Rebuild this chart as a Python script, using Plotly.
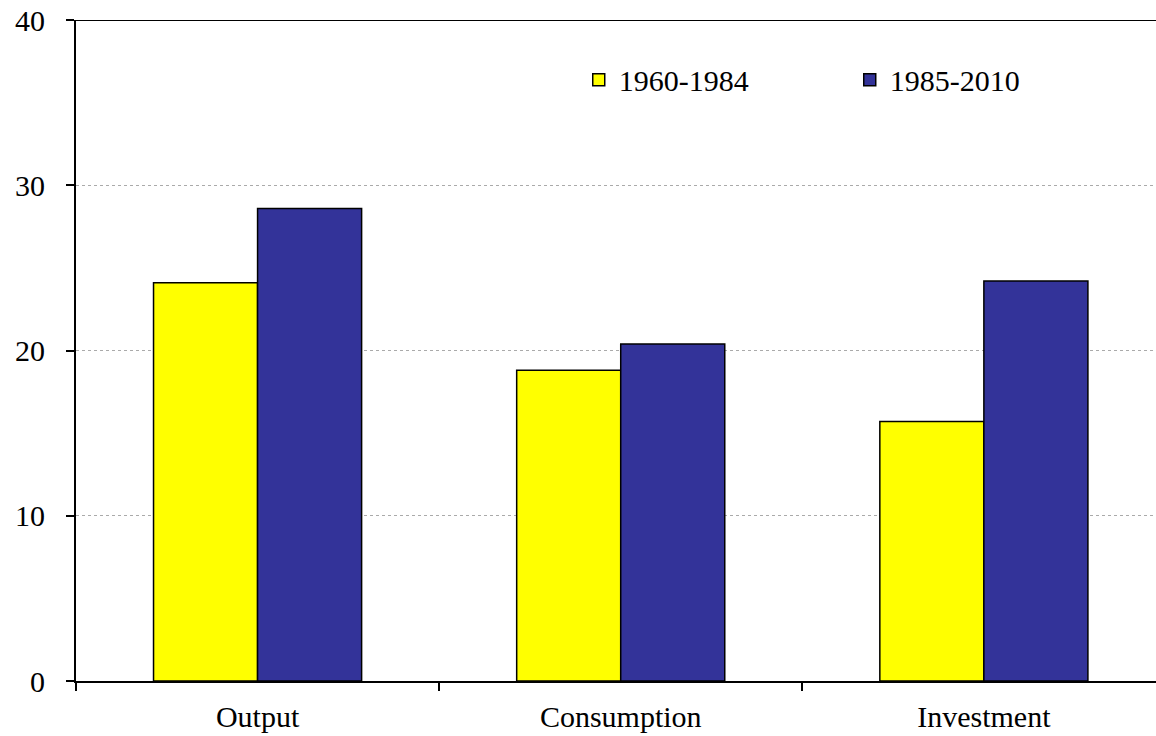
import plotly.graph_objects as go

categories = ["Output", "Consumption", "Investment"]
period1_name = "1960-1984"
period2_name = "1985-2010"
period1_values = [24.1, 18.8, 15.7]
period2_values = [28.6, 20.4, 24.2]
y_ticks = [0, 10, 20, 30, 40]

font_family = "Liberation Serif, Times New Roman, serif"

fig = go.Figure()
fig.add_trace(go.Bar(x=categories, y=period1_values, name=period1_name,
                     marker=dict(color="#FFFF00", line=dict(color="black", width=1.5))))
fig.add_trace(go.Bar(x=categories, y=period2_values, name=period2_name,
                     marker=dict(color="#333399", line=dict(color="black", width=1.5))))

fig.update_layout(
    width=1156, height=736,
    margin=dict(l=76, r=0, t=20, b=55, autoexpand=False),
    paper_bgcolor="white", plot_bgcolor="white",
    barmode="group", bargap=0.427, bargroupgap=0,
    font=dict(family=font_family, size=30, color="black"),
    legend=dict(orientation="h", x=0.4655, y=0.949, xanchor="left", yanchor="top",
                bgcolor="rgba(0,0,0,0)", entrywidth=226, entrywidthmode="pixels",
                font=dict(size=30)),
    showlegend=True,
)
# top border line at the highest tick
fig.add_shape(type="line", xref="paper", yref="y", x0=0, x1=1,
              y0=y_ticks[-1], y1=y_ticks[-1], line=dict(color="black", width=2))
fig.update_xaxes(
    range=[-0.5, 2.474], showline=True, linecolor="black", linewidth=2,
    ticks="outside", tickson="boundaries", ticklen=8, tickwidth=2, tickcolor="black",
    showgrid=False, tickfont=dict(size=30), automargin=False, ticklabelstandoff=8,
)
fig.update_yaxes(
    range=[0, 40], tickvals=y_ticks, showline=True, linecolor="black", linewidth=2,
    ticks="outside", ticklen=8, tickwidth=2, tickcolor="black",
    showgrid=True, gridcolor="#AAAAAA", griddash="dot", gridwidth=1,
    zeroline=False, tickfont=dict(size=30), automargin=False, ticklabelstandoff=15,
    ticklabeloverflow="allow",
)

fig.write_html(
    "out.html",
    config={"displayModeBar": False},
    post_script="document.body.style.margin='0';document.body.style.overflow='hidden';",
)
